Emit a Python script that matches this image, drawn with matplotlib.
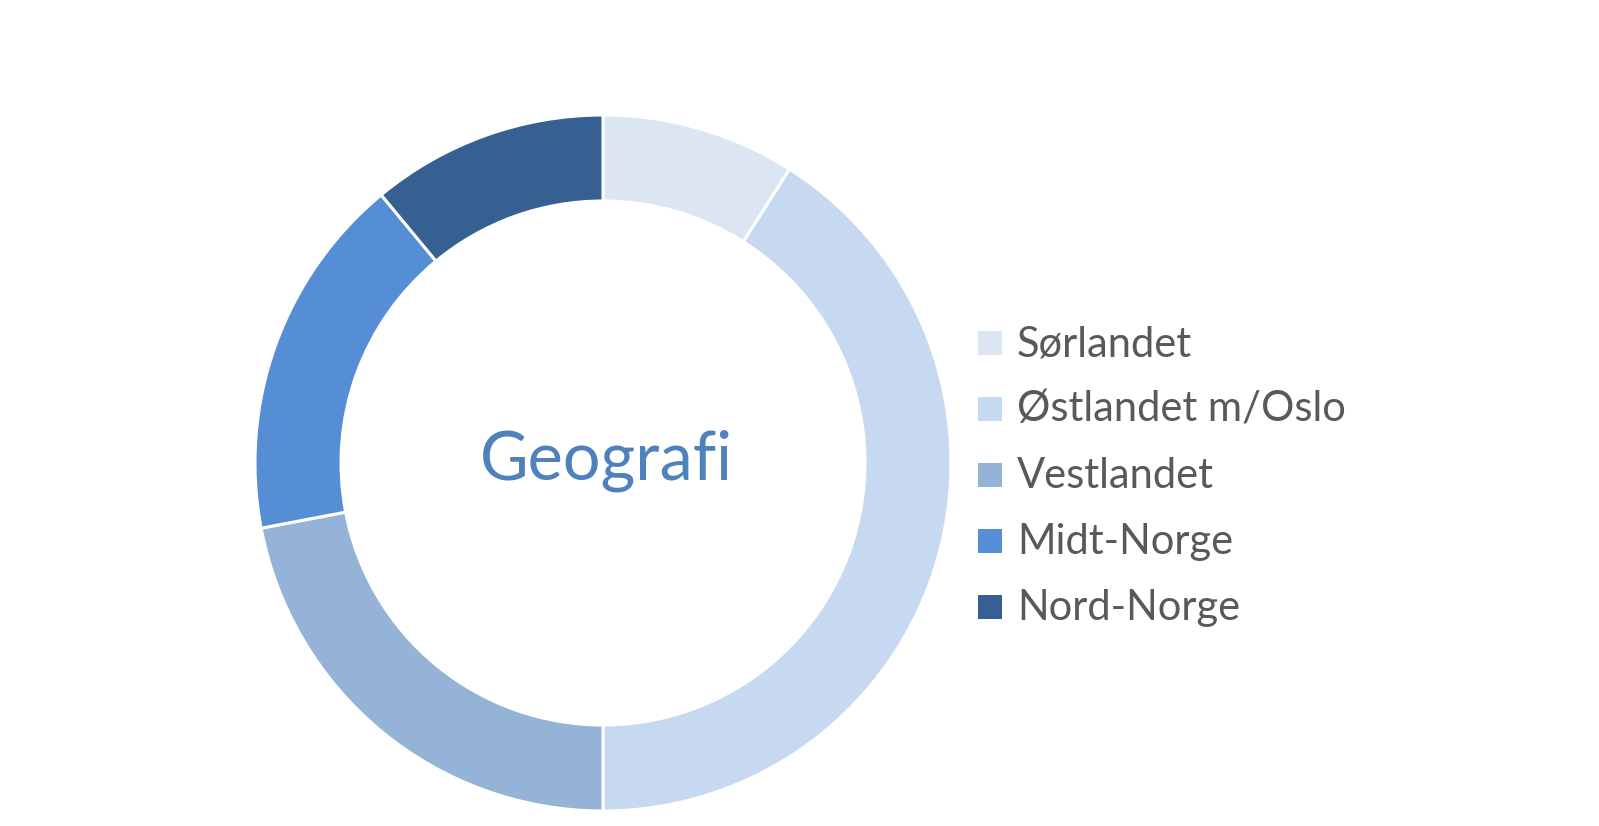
import matplotlib
matplotlib.use("Agg")
import matplotlib.pyplot as plt
from matplotlib.patches import Rectangle

categories = ["Sørlandet", "Østlandet m/Oslo", "Vestlandet", "Midt-Norge", "Nord-Norge"]
values = [9, 41, 22, 17, 11]
colors = ["#DCE6F2", "#C6D9F0", "#95B3D7", "#558ED5", "#376092"]
center_title = "Geografi"

W, H = 1599, 826
fig = plt.figure(figsize=(W / 100, H / 100), dpi=100)
ax = fig.add_axes([0, 0, 1, 1])

R_out, R_in = 348, 262
cx, cy = 603, H - 463
ax.pie(values, colors=colors, startangle=90, counterclock=False,
       radius=R_out, center=(cx, cy), frame=True,
       wedgeprops=dict(width=R_out - R_in, edgecolor="white", linewidth=2.2))
ax.set_xlim(0, W)
ax.set_ylim(0, H)
ax.set_aspect("equal")
ax.axis("off")

ax.text(606, H - 479, center_title, ha="center", va="baseline",
        fontsize=48, color="#4F81BD", family=["Lato", "DejaVu Sans"])

row0, step = 342.5, 66
sq = 24
for i, (lab, col) in enumerate(zip(categories, colors)):
    yc = row0 + i * step
    ax.add_patch(Rectangle((978, H - yc - sq / 2), sq, sq, facecolor=col, edgecolor="none"))
    ax.text(1017, H - (yc + 13.5), lab, ha="left", va="baseline", fontsize=30,
            color="#595959", family=["Lato", "DejaVu Sans"])

fig.savefig("out.png", dpi=100)
